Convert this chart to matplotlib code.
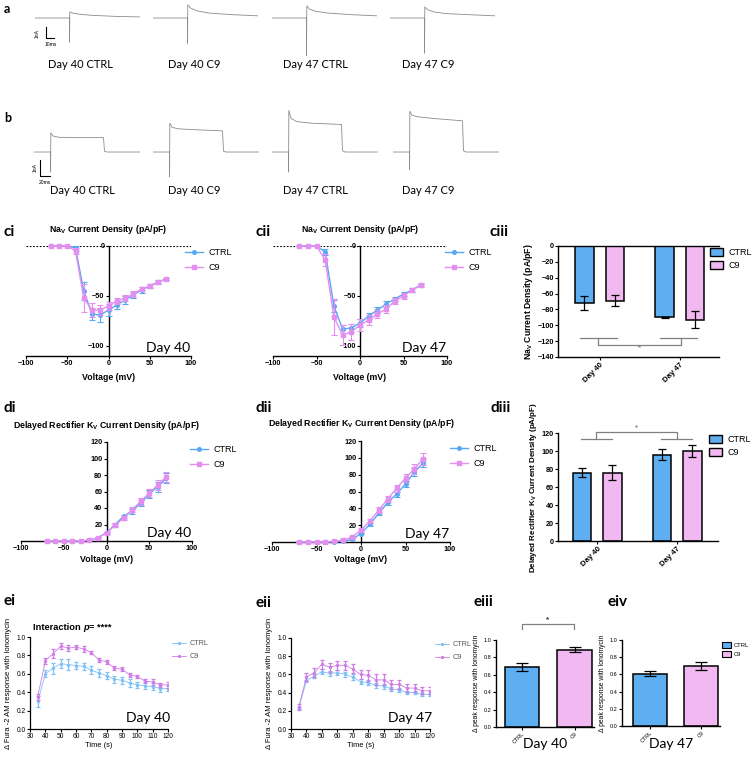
"""
Multi-panel electrophysiology / calcium imaging figure (traces, IV curves, bar summaries).
"""

import matplotlib

matplotlib.use("Agg")
import matplotlib.pyplot as plt
from matplotlib.lines import Line2D
from matplotlib.patches import Patch

plt.rcParams["font.family"] = "Liberation Sans"

W, H = 756, 758
CALIBRI = "Lato"
BLUE = "#58a8f2"
PINK = "#e48ef0"
BAR_BLUE = "#5eaef2"
BAR_PINK = "#f2b8f2"
FURA_BLUE = "#7fc0f7"
FURA_PINK = "#cf7ce6"
TRACE = "#8c8c8c"

# ---- panel a: single-step Na traces (ms, nA) ----
a_time = [0, 43, 43.1, 43.4, 47, 55, 70, 100, 131]
a_labels = ["Day 40 CTRL", "Day 40 C9", "Day 47 CTRL", "Day 47 C9"]
a_traces = [
    [0, 0, -2.2, 0.55, 0.45, 0.35, 0.25, 0.15, 0.1],
    [0, 0, -2.3, 1.2, 0.9, 0.65, 0.45, 0.3, 0.2],
    [0, 0, -3.4, 1.1, 0.8, 0.6, 0.45, 0.3, 0.2],
    [0, 0, -3.2, 1.0, 0.75, 0.55, 0.4, 0.3, 0.2],
]

# ---- panel b: K step traces (ms, nA) ----
b_time = [0, 33, 33.2, 33.6, 38, 50, 80, 120, 139, 141, 146, 212]
b_traces = [
    [0, 0, -1.25, 1.2, 1.0, 0.92, 0.9, 0.9, 0.9, 0.05, 0, 0],
    [0, 0, -1.55, 1.8, 1.55, 1.45, 1.4, 1.35, 1.32, 0.05, 0, 0],
    [0, 0, -1.25, 2.6, 2.1, 1.9, 1.8, 1.75, 1.72, 0.08, 0, 0],
    [0, 0, -1.1, 2.55, 2.3, 2.2, 2.1, 2.0, 1.95, 0.08, 0, 0],
]

# ---- IV curves ----
volts = [-70, -60, -50, -40, -30, -20, -10, 0, 10, 20, 30, 40, 50, 60, 70]

na40_ctrl = [0, 0, 0, -2, -45, -68, -69, -64, -59, -54, -49, -44, -40, -36, -33]
na40_ctrl_err = [0, 0, 0, 2, 9, 6, 7, 6, 4, 4, 3, 3, 2, 2, 1]
na40_c9 = [0, 0, 0, -5, -52, -64, -64, -60, -55, -52, -48, -43, -40, -36, -33]
na40_c9_err = [0, 0, 0, 3, 14, 7, 5, 4, 3, 3, 3, 2, 2, 2, 1]

na47_ctrl = [0, 0, 0, -6, -60, -83, -82, -77, -70, -64, -58, -53, -48, -44, -39]
na47_ctrl_err = [0, 0, 0, 3, 6, 4, 4, 4, 3, 3, 3, 2, 2, 2, 1]
na47_c9 = [0, 0, 0, -14, -71, -89, -86, -79, -74, -68, -63, -55, -50, -44, -39]
na47_c9_err = [0, 0, 0, 6, 18, 10, 8, 6, 5, 4, 4, 3, 3, 2, 2]

kv40_ctrl = [0, 0, 0, 0, 0, 1, 4, 10, 20, 30, 36, 46, 57, 66, 76]
kv40_ctrl_err = [0, 0, 0, 0, 0, 0, 1, 1, 2, 2, 3, 4, 5, 6, 6]
kv40_c9 = [0, 0, 0, 0, 0, 1, 4, 10, 19, 28, 38, 48, 58, 68, 78]
kv40_c9_err = [0, 0, 0, 0, 0, 0, 1, 1, 2, 2, 3, 4, 5, 6, 6]

kv47_ctrl = [0, 0, 0, 0, 0, 1, 3, 10, 21, 34, 47, 57, 69, 83, 94]
kv47_ctrl_err = [0, 0, 0, 0, 0, 0, 1, 1, 2, 2, 3, 3, 4, 5, 5]
kv47_c9 = [0, 0, 0, 0, 1, 2, 6, 14, 25, 38, 51, 64, 76, 87, 99]
kv47_c9_err = [0, 0, 0, 0, 0, 1, 1, 2, 2, 3, 4, 4, 5, 6, 7]

# ---- bar summaries ----
days = ["Day 40", "Day 47"]
na_bar_ctrl = [-72, -90]
na_bar_ctrl_err = [9, 1]
na_bar_c9 = [-69, -93]
na_bar_c9_err = [7, 11]
kv_bar_ctrl = [76, 96]
kv_bar_ctrl_err = [5, 6]
kv_bar_c9 = [76, 100]
kv_bar_c9_err = [8, 7]

# ---- Fura-2 time courses ----
time_s = [35, 40, 45, 50, 55, 60, 65, 70, 75, 80, 85, 90, 95, 100, 105, 110, 115, 120]
fura40_ctrl = [0.30, 0.60, 0.66, 0.71, 0.70, 0.69, 0.68, 0.64, 0.61, 0.58, 0.54, 0.53,
               0.50, 0.48, 0.47, 0.46, 0.44, 0.44]
fura40_ctrl_err = [0.06, 0.04, 0.06, 0.05, 0.06, 0.04, 0.04, 0.04, 0.04, 0.04, 0.04,
                   0.04, 0.04, 0.03, 0.04, 0.04, 0.04, 0.03]
fura40_c9 = [0.35, 0.74, 0.82, 0.90, 0.88, 0.89, 0.87, 0.83, 0.75, 0.73, 0.66, 0.65,
             0.59, 0.57, 0.52, 0.51, 0.48, 0.48]
fura40_c9_err = [0.03, 0.03, 0.05, 0.03, 0.03, 0.02, 0.03, 0.02, 0.02, 0.02, 0.02,
                 0.02, 0.02, 0.02, 0.02, 0.03, 0.02, 0.03]
fura47_ctrl = [0.23, 0.53, 0.58, 0.63, 0.61, 0.62, 0.60, 0.57, 0.52, 0.51, 0.48, 0.47,
               0.44, 0.43, 0.40, 0.40, 0.38, 0.38]
fura47_ctrl_err = [0.01, 0.01, 0.02, 0.03, 0.03, 0.03, 0.03, 0.03, 0.03, 0.03, 0.03,
                   0.03, 0.02, 0.02, 0.02, 0.02, 0.02, 0.02]
fura47_c9 = [0.24, 0.57, 0.62, 0.71, 0.68, 0.70, 0.70, 0.66, 0.60, 0.59, 0.54, 0.54,
             0.49, 0.49, 0.45, 0.45, 0.42, 0.42]
fura47_c9_err = [0.03, 0.04, 0.05, 0.05, 0.05, 0.05, 0.05, 0.05, 0.05, 0.06, 0.06,
                 0.06, 0.05, 0.05, 0.04, 0.04, 0.04, 0.04]

groups = ["CTRL", "C9"]
peak40 = [0.69, 0.89]
peak40_err = [0.05, 0.03]
peak47 = [0.61, 0.70]
peak47_err = [0.03, 0.05]

fig = plt.figure(figsize=(W / 100, H / 100), dpi=100)


def add_ax(left, top, right, bottom):
    return fig.add_axes([left / W, 1 - bottom / H, (right - left) / W, (bottom - top) / H])


def ftext(x, y, s, **kw):
    return fig.text(x / W, 1 - y / H, s, **kw)


def bold_ticks(ax, size=5.2, bold=True):
    ax.tick_params(axis="both", labelsize=size, length=2, width=0.8, pad=1)
    if bold:
        for lbl in ax.get_xticklabels() + ax.get_yticklabels():
            lbl.set_fontweight("bold")


# ---------------- panels a and b (raw traces) ----------------
ftext(4, 9, "a", fontsize=9, fontweight="bold", family=CALIBRI, va="center")
a_starts = [35, 153, 272, 390]
a_centers = [80, 194, 315, 428]
for i, trace in enumerate(a_traces):
    ax = add_ax(a_starts[i], 0, a_starts[i] + 105, 60)
    ax.plot(a_time, trace, color=TRACE, lw=0.6)
    ax.set_xlim(0, 131)
    ax.set_ylim(-3.82, 1.64)
    ax.axis("off")
    if i == 0:
        ax.plot([14, 14, 24], [-0.82, -1.82, -1.82], color="black", lw=0.8, clip_on=False)
    ftext(a_centers[i], 64, a_labels[i], fontsize=8, family=CALIBRI, ha="center", va="center")
ftext(37, 33, "1nA", fontsize=3.6, rotation=90, ha="center", va="center")
ftext(45, 45, "10ms", fontsize=3.6, ha="left", va="center")

ftext(4, 118, "b", fontsize=9, fontweight="bold", family=CALIBRI, va="center")
b_starts = [34, 153, 272, 393]
b_centers = [82, 194, 315, 428]
for i, trace in enumerate(b_traces):
    ax = add_ax(b_starts[i], 105, b_starts[i] + 106, 180)
    ax.plot(b_time, trace, color=TRACE, lw=0.6)
    ax.set_xlim(0, 212)
    ax.set_ylim(-1.75, 2.94)
    ax.axis("off")
    if i == 0:
        ax.plot([12, 12, 32], [-0.5, -1.5, -1.5], color="black", lw=0.8, clip_on=False)
    ftext(b_centers[i], 190, a_labels[i], fontsize=8, family=CALIBRI, ha="center", va="center")
ftext(35, 168, "1nA", fontsize=3.6, rotation=90, ha="center", va="center")
ftext(39, 182, "20ms", fontsize=3.6, ha="left", va="center")


# ---------------- IV panels ----------------
def iv_panel(box, ctrl, ctrl_err, c9, c9_err, kind, day, title, xlabel_y, legend_xy):
    ax = add_ax(*box)
    ax.errorbar(volts, ctrl, yerr=ctrl_err, color=BLUE, marker="o", ms=2.6, lw=1.0,
                elinewidth=0.8, capsize=2, capthick=0.8, clip_on=False, zorder=3)
    ax.errorbar(volts, c9, yerr=c9_err, color=PINK, marker="s", ms=2.8, lw=1.0,
                elinewidth=0.8, capsize=2, capthick=0.8, clip_on=False, zorder=4)
    ax.set_xlim(-100, 100)
    ax.set_xticks([-100, -50, 0, 50, 100])
    ax.spines["left"].set_position(("data", 0))
    ax.spines["top"].set_visible(False)
    ax.spines["right"].set_visible(False)
    for sp in ("left", "bottom"):
        ax.spines[sp].set_linewidth(1.0)
    if kind == "na":
        ax.set_ylim(-110, 0)
        ax.set_yticks([-100, -50, 0])
        ax.axhline(0, color="black", ls=(0, (1.5, 1.5)), lw=0.8, zorder=1)
    else:
        ax.set_ylim(0, 120)
        ax.set_yticks([20, 40, 60, 80, 100, 120])
    bold_ticks(ax)
    cx = (box[0] + box[2]) / 2
    ftext(cx, box[1] - 17, title, fontsize=6.3, fontweight="bold", ha="center", va="center")
    ftext(cx, xlabel_y, "Voltage (mV)", fontsize=6.3, fontweight="bold", ha="center", va="center")
    ftext(box[2] - 1, box[3] - 4, day, fontsize=10, family=CALIBRI, ha="right", va="baseline")
    handles = [
        Line2D([], [], color=BLUE, marker="o", ms=2.6, lw=1.0),
        Line2D([], [], color=PINK, marker="s", ms=2.8, lw=1.0),
    ]
    ax.legend(handles, groups, loc="upper left", frameon=False, fontsize=6.5,
              bbox_to_anchor=(legend_xy[0] / W, 1 - legend_xy[1] / H),
              bbox_transform=fig.transFigure, borderpad=0, borderaxespad=0,
              handlelength=2.0, handletextpad=0.6, labelspacing=0.65)
    return ax


na_title = r"Na$_\mathregular{V}$ Current Density (pA/pF)"
kv_title = r"Delayed Rectifier K$_\mathregular{V}$ Current Density (pA/pF)"

ftext(3, 232, "ci", fontsize=11, fontweight="bold", family=CALIBRI, va="center")
iv_panel((26, 246, 191, 356), na40_ctrl, na40_ctrl_err, na40_c9, na40_c9_err,
         "na", "Day 40", na_title, 378, (185, 248))
ftext(255, 232, "cii", fontsize=11, fontweight="bold", family=CALIBRI, va="center")
iv_panel((273, 246, 447, 356), na47_ctrl, na47_ctrl_err, na47_c9, na47_c9_err,
         "na", "Day 47", na_title, 378, (445, 248))

ftext(3, 408, "di", fontsize=11, fontweight="bold", family=CALIBRI, va="center")
iv_panel((21, 442, 192, 541), kv40_ctrl, kv40_ctrl_err, kv40_c9, kv40_c9_err,
         "kv", "Day 40", kv_title, 559, (190, 445))
ftext(255, 408, "dii", fontsize=11, fontweight="bold", family=CALIBRI, va="center")
iv_panel((272, 441, 450, 542), kv47_ctrl, kv47_ctrl_err, kv47_c9, kv47_c9_err,
         "kv", "Day 47", kv_title, 560, (450, 444))


# ---------------- grouped bar panels ----------------
def grouped_bars(box, ctrl, ctrl_err, c9, c9_err, xlim, ylim, yticks, ylabel, label_size,
                 legend_xy):
    ax = add_ax(*box)
    pos = list(range(len(days)))
    off, width = 0.19, 0.23
    ekw = dict(elinewidth=0.9, capthick=0.9, ecolor="black")
    ax.bar([p - off for p in pos], ctrl, width, color=BAR_BLUE, edgecolor="black",
           linewidth=1.1, yerr=ctrl_err, capsize=3, error_kw=ekw, zorder=2)
    ax.bar([p + off for p in pos], c9, width, color=BAR_PINK, edgecolor="black",
           linewidth=1.1, yerr=c9_err, capsize=3, error_kw=ekw, zorder=2)
    ax.set_xlim(*xlim)
    ax.set_ylim(*ylim)
    ax.set_yticks(yticks)
    ax.set_xticks(pos)
    ax.set_xticklabels(days, rotation=45, ha="right", rotation_mode="anchor")
    ax.spines["right"].set_visible(False)
    for sp in ax.spines.values():
        sp.set_linewidth(1.0)
    bold_ticks(ax)
    for lbl in ax.get_xticklabels():
        lbl.set_fontsize(5.6)
    ax.set_ylabel(ylabel, fontsize=label_size, fontweight="bold", labelpad=2)
    handles = [Patch(facecolor=BAR_BLUE, edgecolor="black", lw=1.0),
               Patch(facecolor=BAR_PINK, edgecolor="black", lw=1.0)]
    ax.legend(handles, groups, loc="upper left", frameon=False, fontsize=6.5,
              bbox_to_anchor=(legend_xy[0] / W, 1 - legend_xy[1] / H),
              bbox_transform=fig.transFigure, borderpad=0, borderaxespad=0,
              handlelength=1.4, handleheight=1.0, handletextpad=0.6, labelspacing=0.45)
    return ax


ftext(490, 232, "ciii", fontsize=11, fontweight="bold", family=CALIBRI, va="center")
ax = grouped_bars((558, 246, 719, 357), na_bar_ctrl, na_bar_ctrl_err, na_bar_c9,
                  na_bar_c9_err, (-0.52, 1.49), (-140, 0), list(range(-140, 1, 20)),
                  na_title, 6.2, (710, 248))
ax.spines["top"].set_visible(True)
ax.tick_params(axis="x", top=False)
gray = "#808080"
for c in (0, 1):
    ax.plot([c - 0.25, c + 0.22], [-116, -116], color=gray, lw=0.9, clip_on=False)
ax.plot([-0.02, -0.02, 1.02, 1.02], [-116, -125, -125, -116], color=gray, lw=0.9, clip_on=False)
ax.text(0.5, -128, "*", ha="center", va="center", fontsize=5.5, color=gray, fontweight="bold")

ftext(491, 408, "diii", fontsize=11, fontweight="bold", family=CALIBRI, va="center")
ax = grouped_bars((558, 433, 718, 541), kv_bar_ctrl, kv_bar_ctrl_err, kv_bar_c9,
                  kv_bar_c9_err, (-0.49, 1.51), (0, 120), list(range(0, 121, 20)),
                  kv_title, 5.8, (709, 435))
ax.spines["top"].set_visible(False)
for c in (0, 1):
    ax.plot([c - 0.2, c + 0.18], [113, 113], color=gray, lw=0.9, clip_on=False)
ax.plot([-0.02, -0.02, 1.0, 1.0], [113, 121, 121, 113], color=gray, lw=0.9, clip_on=False)
ax.text(0.49, 121.5, "*", ha="center", va="bottom", fontsize=5.5, color=gray, fontweight="bold")


# ---------------- Fura-2 time courses ----------------
def fura_panel(box, ctrl, ctrl_err, c9, c9_err, day, legend_xy):
    ax = add_ax(*box)
    ax.errorbar(time_s, ctrl, yerr=ctrl_err, color=FURA_BLUE, marker="o", ms=1.4, lw=0.6,
                elinewidth=0.9, capsize=1.5, capthick=0.9, zorder=3)
    ax.errorbar(time_s, c9, yerr=c9_err, color=FURA_PINK, marker="o", ms=1.4, lw=0.6,
                elinewidth=0.9, capsize=1.5, capthick=0.9, zorder=4)
    ax.set_xlim(30, 120)
    ax.set_ylim(0, 1.0)
    ax.set_xticks(list(range(30, 121, 10)))
    ax.set_yticks([0.0, 0.2, 0.4, 0.6, 0.8, 1.0])
    ax.set_yticklabels(["0.0", "0.2", "0.4", "0.6", "0.8", "1.0"])
    ax.spines["top"].set_visible(False)
    ax.spines["right"].set_visible(False)
    for sp in ("left", "bottom"):
        ax.spines[sp].set_linewidth(0.9)
    bold_ticks(ax, size=4.8, bold=False)
    ax.set_xlabel("Time (s)", fontsize=5.4, labelpad=1.5)
    ax.set_ylabel("\u0394 Fura -2 AM response with Ionomycin", fontsize=5.5, labelpad=3)
    ftext(box[2] + 2, box[3] - 7, day, fontsize=10, family=CALIBRI, ha="right", va="baseline")
    handles = [Line2D([], [], color=FURA_BLUE, marker="o", ms=1.4, lw=0.6),
               Line2D([], [], color=FURA_PINK, marker="o", ms=1.4, lw=0.6)]
    leg = ax.legend(handles, groups, loc="upper left", frameon=False, fontsize=5.2,
                    bbox_to_anchor=(legend_xy[0] / W, 1 - legend_xy[1] / H),
                    bbox_transform=fig.transFigure, borderpad=0, borderaxespad=0,
                    handlelength=1.9, handletextpad=0.6, labelspacing=0.85)
    for t in leg.get_texts():
        t.set_color("#555555")
    return ax


ftext(4, 601, "ei", fontsize=11, fontweight="bold", family=CALIBRI, va="center")
ax = fura_panel((30, 637, 168, 729), fura40_ctrl, fura40_ctrl_err, fura40_c9,
                fura40_c9_err, "Day 40", (172, 640))
t1 = ftext(33, 632, "Interaction ", fontsize=6.7, fontweight="bold", va="bottom")
t2 = ax.annotate("p", xy=(1, 0), xycoords=t1, fontsize=6.7, fontweight="bold",
                 fontstyle="italic", va="bottom")
ax.annotate("= ****", xy=(1, 0), xycoords=t2, fontsize=6.7, fontweight="bold", va="bottom")

ftext(255, 603, "eii", fontsize=11, fontweight="bold", family=CALIBRI, va="center")
fura_panel((291, 638, 430, 729), fura47_ctrl, fura47_ctrl_err, fura47_c9,
           fura47_c9_err, "Day 47", (435, 641))


# ---------------- peak response bars ----------------
def peak_panel(box, vals, errs, xlim, day):
    ax = add_ax(*box)
    ax.bar([0, 1], vals, 0.66, color=[BAR_BLUE, BAR_PINK], edgecolor="black", linewidth=1.1,
           yerr=errs, capsize=4, error_kw=dict(elinewidth=0.9, capthick=0.9), zorder=2)
    ax.set_xlim(*xlim)
    ax.set_ylim(0, 1.0)
    ax.set_yticks([0.0, 0.2, 0.4, 0.6, 0.8, 1.0])
    ax.set_yticklabels(["0.0", "0.2", "0.4", "0.6", "0.8", "1.0"])
    ax.set_xticks([0, 1])
    ax.set_xticklabels(groups, rotation=45, ha="right", rotation_mode="anchor")
    ax.spines["top"].set_visible(False)
    ax.spines["right"].set_visible(False)
    for sp in ("left", "bottom"):
        ax.spines[sp].set_linewidth(1.0)
    bold_ticks(ax, size=4.0, bold=False)
    ax.set_ylabel("\u0394 peak response with Ionomycin", fontsize=4.9, labelpad=3)
    cx = (box[0] + box[2]) / 2
    ftext(cx, 744, day, fontsize=10, family=CALIBRI, ha="center", va="center")
    return ax


ftext(474, 602, "eiii", fontsize=11, fontweight="bold", family=CALIBRI, va="center")
ax = peak_panel((496, 640, 594, 727), peak40, peak40_err, (-0.5, 1.37), "Day 40")
ax.plot([0, 0, 0.98, 0.98], [1.13, 1.18, 1.18, 1.13], color=gray, lw=0.9, clip_on=False)
ax.text(0.49, 1.19, "*", ha="center", va="bottom", fontsize=6, color="#333333",
        fontweight="bold")

ftext(607, 602, "eiv", fontsize=11, fontweight="bold", family=CALIBRI, va="center")
ax = peak_panel((622, 640, 720, 726), peak47, peak47_err, (-0.54, 1.36), "Day 47")
handles = [Patch(facecolor=BAR_BLUE, edgecolor="black", lw=0.8),
           Patch(facecolor=BAR_PINK, edgecolor="black", lw=0.8)]
ax.legend(handles, groups, loc="upper left", frameon=False, fontsize=4.2,
          bbox_to_anchor=(722 / W, 1 - 642 / H), bbox_transform=fig.transFigure,
          borderpad=0, borderaxespad=0, handlelength=1.6, handleheight=1.2,
          handletextpad=0.5, labelspacing=0.5)

fig.savefig("out.png", dpi=100)
